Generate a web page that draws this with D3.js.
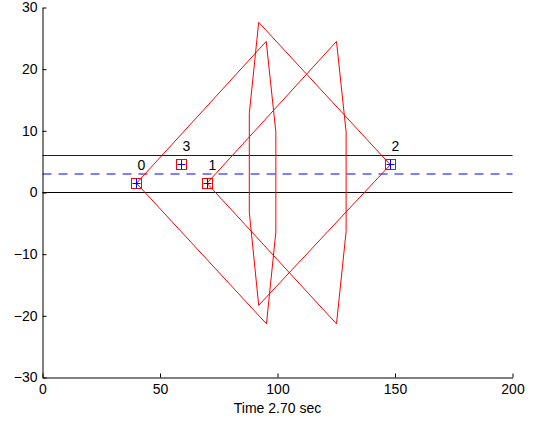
<!DOCTYPE html>
<html><head><meta charset="utf-8">
<script src="https://cdn.jsdelivr.net/npm/d3@7"></script>
<style>body{margin:0;background:#fff}svg{display:block}text{font-family:"Liberation Sans",Arial,sans-serif}</style>
</head><body><svg id="c" width="538" height="422"></svg>
<script>
// Data
const xTicks = [0, 50, 100, 150, 200];
const yTicks = [-30, -20, -10, 0, 10, 20, 30];
const xLabel = "Time 2.70 sec";
const objIds = ["0", "1", "2", "3"];
const objX = [40, 70, 148, 59];
const objY = [1.5, 1.5, 4.5, 4.5];
const upperLimit = 6;
const midLine = 3;
const zeroLine = 0;
const shape0 = [[40,1.5],[95.2,24.5],[99.3,9.8],[99.3,-6.4],[95.3,-21.3],[40,1.5]];
const shape1 = [[70,1.5],[125.1,24.5],[129.2,9.8],[129.2,-6.3],[125.1,-21.3],[70,1.5]];
const shape2 = [[148,4.5],[92.0,27.6],[88.0,12.8],[88.0,-3.2],[92.0,-18.3],[148,4.5]];

const svg = d3.select("#c");
const x = d3.scaleLinear().domain([0,200]).range([42.5,512.5]);
const y = d3.scaleLinear().domain([-30,30]).range([377.5,7.5]);
const snap = v => Math.round(v - 0.5) + 0.5;

// reference lines
svg.append("line").attr("x1",x(0)).attr("x2",x(200)).attr("y1",snap(y(zeroLine))).attr("y2",snap(y(zeroLine)))
  .attr("stroke","#000").attr("stroke-width",1);
svg.append("line").attr("x1",x(0)).attr("x2",x(200)).attr("y1",snap(y(upperLimit))).attr("y2",snap(y(upperLimit)))
  .attr("stroke","#0000ff").attr("stroke-width",1);
svg.append("line").attr("x1",x(0)).attr("x2",x(200)).attr("y1",Math.round(y(midLine))).attr("y2",Math.round(y(midLine)))
  .attr("stroke","#7f7fff").attr("stroke-width",2).attr("stroke-dasharray","9,7");

// shapes
const line = d3.line().x(d=>x(d[0])).y(d=>y(d[1]));
[shape0, shape1, shape2].forEach(s=>{
  svg.append("path").attr("d",line(s)).attr("fill","none").attr("stroke","#ff0000").attr("stroke-width",1);
});

// markers
objIds.forEach((id,i)=>{
  const cx = snap(x(objX[i])), cy = snap(y(objY[i]));
  svg.append("rect").attr("x",cx-5).attr("y",cy-5).attr("width",10).attr("height",10)
    .attr("fill","none").attr("stroke","#ff0000").attr("stroke-width",1);
  svg.append("path").attr("d",`M${cx-4},${cy}H${cx+4}M${cx},${cy-5}V${cy+5}`)
    .attr("stroke","#0000ff").attr("stroke-width",1);
  svg.append("text").attr("x",cx+1).attr("y",cy-14).attr("font-size",14).text(id);
});

// axes
const ax = svg.append("g").attr("transform",`translate(0,${y(-30)})`)
  .call(d3.axisBottom(x).tickValues(xTicks).tickSizeInner(-4).tickSizeOuter(0).tickPadding(7));
const ay = svg.append("g").attr("transform",`translate(${x(0)},0)`)
  .call(d3.axisLeft(y).tickValues(yTicks).tickSizeInner(-4).tickSizeOuter(0).tickPadding(5)
    .tickFormat(d=>d<0?"\u2212"+Math.abs(d):d));
[ax,ay].forEach(g=>{
  g.select(".domain").attr("stroke","#000");
  g.selectAll("text").attr("font-size",14).attr("fill","#000").attr("font-family","Liberation Sans, Arial, sans-serif");
});
svg.append("text").attr("x",(x(0)+x(200))/2).attr("y",413).attr("text-anchor","middle").attr("font-size",14).text(xLabel);
</script></body></html>
